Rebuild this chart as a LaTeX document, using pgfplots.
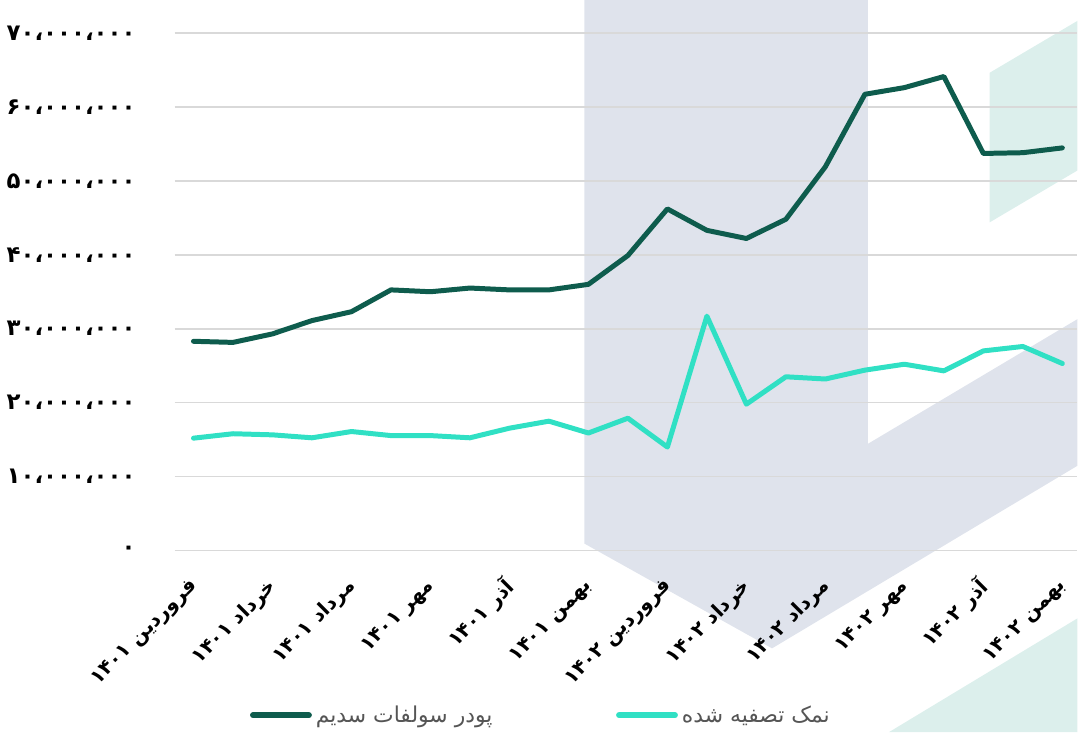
\documentclass[border=0pt]{standalone}
\usepackage{pgfplots}
\pgfplotsset{compat=1.18}
\usepackage{pgfplotstable}
\usepackage{fontspec}
\TeXXeTstate=1
\newfontfamily\arabicfont[Script=Arabic]{DejaVu Sans}
\definecolor{darkline}{HTML}{0E5C4D}
\definecolor{lightline}{HTML}{30E0C4}
\definecolor{grayshape}{HTML}{DFE3EC}
\definecolor{greenshape}{HTML}{DCEFEC}
\definecolor{gridc}{HTML}{D9D9D9}
\definecolor{legtext}{HTML}{555555}

\pgfplotstableread{
x dark light
0 28.3 15.2
1 28.15 15.8
2 29.3 15.65
3 31.1 15.25
4 32.3 16.1
5 35.25 15.55
6 35.0 15.55
7 35.5 15.25
8 35.25 16.55
9 35.25 17.5
10 36.0 15.9
11 39.9 17.9
12 46.2 14.0
13 43.3 31.7
14 42.2 19.8
15 44.8 23.5
16 51.9 23.2
17 61.7 24.4
18 62.6 25.2
19 64.1 24.3
20 53.7 27.0
21 53.8 27.6
22 54.45 25.3
}\datatable

\begin{document}
\begin{tikzpicture}
\begin{axis}[
  set layers=standard,
  x=19.795bp, y=3.707bp,
  xmin=-0.48, xmax=22.38, ymin=0, ymax=70,
  clip=false,
  axis line style={draw=none},
  major tick length=0pt,
  ymajorgrids, grid style={gridc, line width=0.8bp},
  ytick={0,10,20,30,40,50,60,70},
  yticklabels={{۰},{۱۰،۰۰۰،۰۰۰},{۲۰،۰۰۰،۰۰۰},{۳۰،۰۰۰،۰۰۰},{۴۰،۰۰۰،۰۰۰},{۵۰،۰۰۰،۰۰۰},{۶۰،۰۰۰،۰۰۰},{۷۰،۰۰۰،۰۰۰}},
  yticklabel style={font=\arabicfont\bfseries\fontsize{11.5}{13}\selectfont, anchor=east, xshift=-16bp},
  xtick={0,2,...,22},
  xticklabels={
    {\beginR فروردین ۱۴۰۱\endR},
    {\beginR خرداد ۱۴۰۱\endR},
    {\beginR مرداد ۱۴۰۱\endR},
    {\beginR مهر ۱۴۰۱\endR},
    {\beginR آذر ۱۴۰۱\endR},
    {\beginR بهمن ۱۴۰۱\endR},
    {\beginR فروردین ۱۴۰۲\endR},
    {\beginR خرداد ۱۴۰۲\endR},
    {\beginR مرداد ۱۴۰۲\endR},
    {\beginR مهر ۱۴۰۲\endR},
    {\beginR آذر ۱۴۰۲\endR},
    {\beginR بهمن ۱۴۰۲\endR}},
  xticklabel style={font=\arabicfont\bfseries\fontsize{10}{12}\selectfont, xshift=3bp, yshift=-14bp, rotate=45, anchor=east},
  legend columns=2,
  legend style={at={(axis cs:1.27,-22.26)}, anchor=west, draw=none, fill=none,
    font=\arabicfont\fontsize{11}{13}\selectfont\color{legtext},
    /tikz/every even column/.append style={column sep=60bp}},
  legend image code/.code={\draw[#1, line width=3bp, line cap=round] (0bp,0bp) -- (28bp,0bp);},
]
\path (axis cs:-4.875,-24.55) rectangle (axis cs:22.38,74.45);
\addplot[on layer=axis background, fill=grayshape, draw=none, forget plot]
  coordinates {(9.90,74.45) (17.075,74.45) (17.075,14.43) (22.38,31.29) (22.38,11.46) (14.65,-13.22) (9.90,0.94)} -- cycle;
\addplot[on layer=axis background, fill=greenshape, draw=none, forget plot]
  coordinates {(20.16,64.61) (22.38,71.62) (22.38,51.39) (20.16,44.38)} -- cycle;
\addplot[on layer=axis background, fill=greenshape, draw=none, forget plot]
  coordinates {(17.61,-24.55) (22.38,-9.17) (22.38,-24.55)} -- cycle;
\addplot[darkline, line width=2.5bp, line join=round, line cap=round] table[x=x, y=dark] {\datatable};
\addlegendentry{\beginR پودر سولفات سدیم\endR}
\addplot[lightline, line width=2.5bp, line join=round, line cap=round] table[x=x, y=light] {\datatable};
\addlegendentry{\beginR نمک تصفیه شده\endR}
\end{axis}
\end{tikzpicture}
\end{document}
